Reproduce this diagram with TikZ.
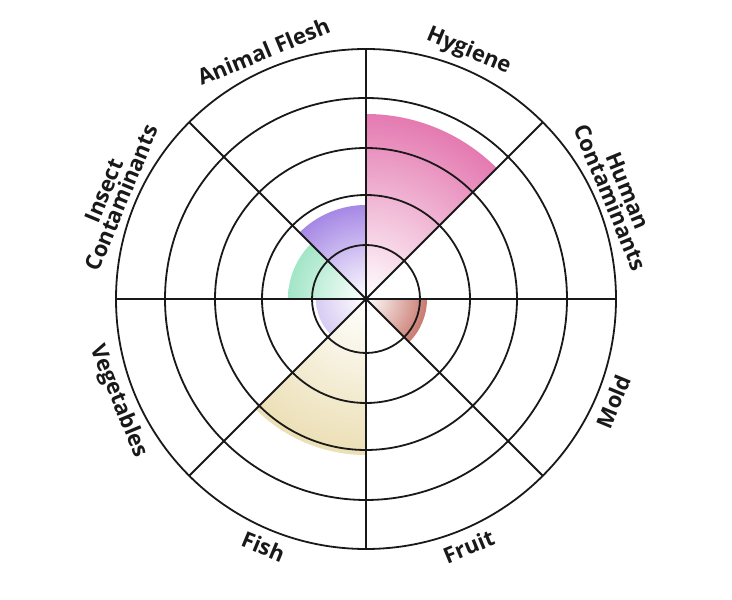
\documentclass[tikz,border=0pt]{standalone}
\usepackage{fontspec}
\setmainfont{Open Sans}
\usetikzlibrary{calc}
\begin{document}
\begin{tikzpicture}[x=1pt,y=1pt,
  ring/.style={draw=black!90,line width=1.8pt},
  lbl/.style={font=\bfseries\fontsize{22}{24}\selectfont,align=center,text=black!90}]
\useasboundingbox (0,0) rectangle (732,600);
\coordinate (c) at (366,301);
\definecolor{pinkc}{HTML}{D42A82}
\definecolor{redc}{HTML}{A82A18}
\definecolor{yelc}{HTML}{E0CC88}
\definecolor{purc}{HTML}{7040D6}
\definecolor{grnc}{HTML}{6AD6A6}
\definecolor{lavc}{HTML}{C0ADEC}
\foreach \a/\b/\r/\col in {45/90/185/pinkc, -45/0/61/redc, 225/270/156/yelc, 90/135/94/purc, 135/180/78/grnc, 180/225/50/lavc}{
  \begin{scope}
    \clip (c) -- ++(\a:\r) arc[start angle=\a,end angle=\b,radius=\r] -- cycle;
    \shade[inner color=white,outer color=\col] (c) circle[radius=1.6*\r];
  \end{scope}
}
\foreach \r in {54,104,151,201,250}{
  \draw[ring] (c) circle[radius=\r];
}
\foreach \t in {0,45,...,315}{
  \coordinate (e\t) at ($(c)+(\t:250)$);
  \draw[ring] (c) -- (e\t);
}
\node[lbl,rotate=22.5] (l1) at ($(c)+(112.5:268)$) {Animal Flesh};
\node[lbl,rotate=-22.5] (l2) at ($(c)+(67.5:268)$) {Hygiene};
\node[lbl,rotate=-67.5] (l3) at ($(c)+(22.5:274)$) {Human\\[-5pt]Contaminants};
\node[lbl,rotate=67.5] (l4) at ($(c)+(-22.5:268)$) {Mold};
\node[lbl,rotate=22.5] (l5) at ($(c)+(-67.5:268)$) {Fruit};
\node[lbl,rotate=-22.5] (l6) at ($(c)+(-112.5:268)$) {Fish};
\node[lbl,rotate=-67.5] (l7) at ($(c)+(-157.5:268)$) {Vegetables};
\node[lbl,rotate=67.5] (l8) at ($(c)+(157.5:274)$) {Insect\\[-5pt]Contaminants};
\end{tikzpicture}
\end{document}
